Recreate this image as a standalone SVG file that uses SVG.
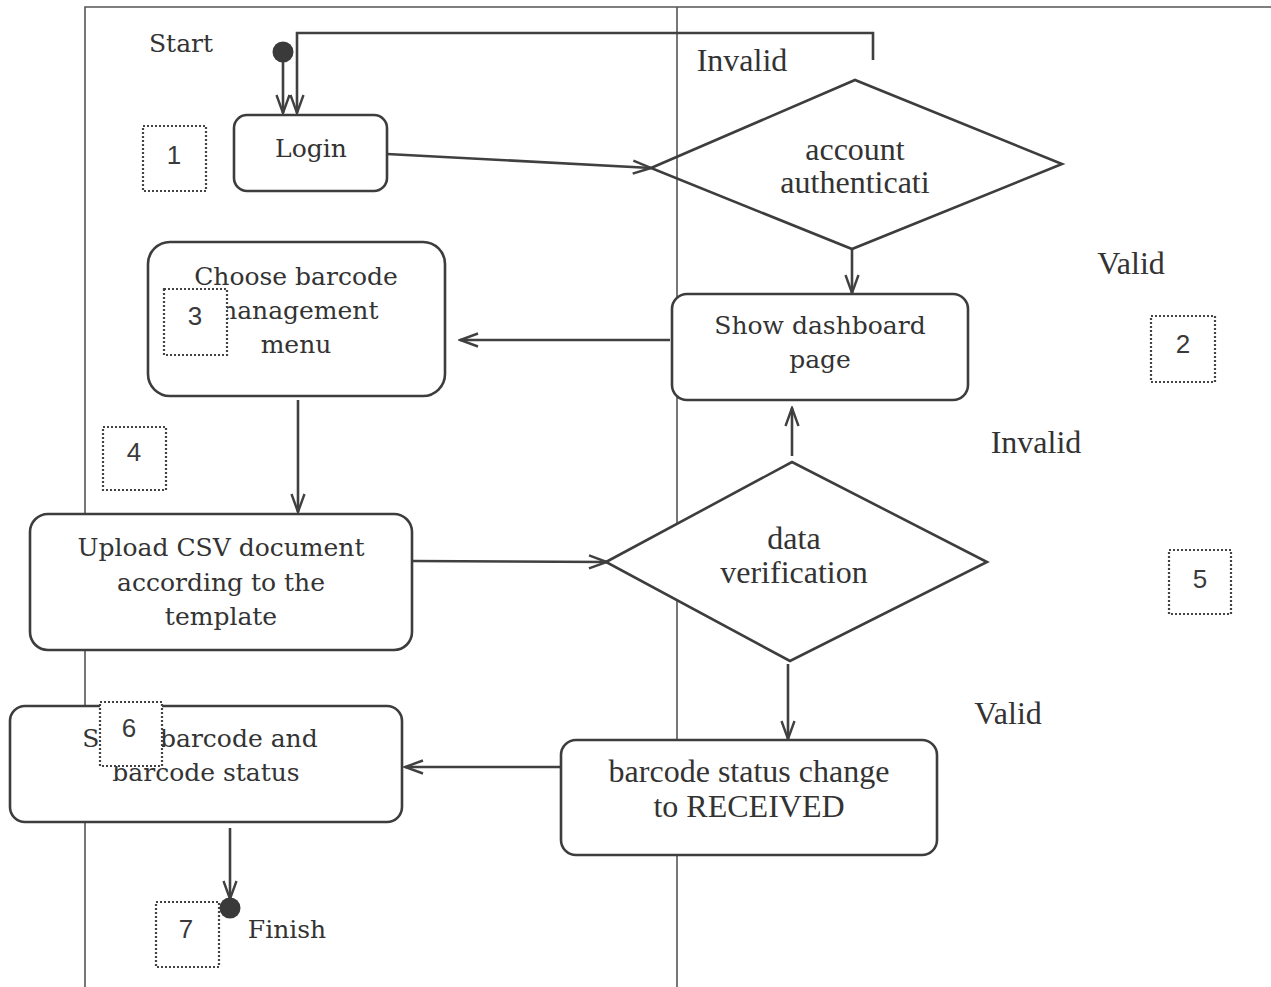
<svg xmlns="http://www.w3.org/2000/svg" width="1271" height="987" viewBox="0 0 1271 987">
<style>
.lane{stroke:#555;stroke-width:1.6;fill:none}
.box{fill:#fff;stroke:#3d3d3d;stroke-width:2.6}
.dia{stroke:#3d3d3d;stroke-width:2.6}
.num{fill:#fff;stroke:#444;stroke-width:2.2;stroke-dasharray:2 2}
.conn{fill:none;stroke:#404040;stroke-width:2.6}
.bt{font-family:"DejaVu Serif","Liberation Serif",serif;font-size:25px;fill:#333;text-anchor:middle}
.lt{font-family:"Liberation Serif",serif;font-size:32px;fill:#333;text-anchor:middle}
.nt{font-family:"Liberation Sans",Arial,sans-serif;font-size:26px;fill:#3a3a3a;text-anchor:middle}
</style>
<defs>
<marker id="arr" markerUnits="userSpaceOnUse" markerWidth="22" markerHeight="17" viewBox="0 0 22 17" refX="20" refY="8.5" orient="auto">
<path d="M2,2 L20,8.5 L2,15" fill="none" stroke="#404040" stroke-width="2.4"/>
</marker>
</defs>
<rect width="1271" height="987" fill="#fff"/>
<g id="lanes">
<path class="lane" d="M85,987 L85,7 L1271,7"/>
<path class="lane" d="M677,7 L677,987"/>
</g>
<g id="connectors">
<path class="conn" d="M283,62 L283,113" marker-end="url(#arr)"/>
<path class="conn" d="M873,60 L873,33 L297,33 L297,113" marker-end="url(#arr)"/>
<path class="conn" d="M387,154 L651,168" marker-end="url(#arr)"/>
<path class="conn" d="M852,249 L852,293" marker-end="url(#arr)"/>
<path class="conn" d="M670,340 L460,340" marker-end="url(#arr)"/>
<path class="conn" d="M298,400 L298,512" marker-end="url(#arr)"/>
<path class="conn" d="M412,561 L607,562" marker-end="url(#arr)"/>
<path class="conn" d="M792,456 L792,408" marker-end="url(#arr)"/>
<path class="conn" d="M788,664 L788,739" marker-end="url(#arr)"/>
<path class="conn" d="M576,767 L405,767" marker-end="url(#arr)"/>
<path class="conn" d="M230,828 L230,899" marker-end="url(#arr)"/>
</g>
<g id="start">
<circle cx="283" cy="52" r="10.5" fill="#3a3a3a"/>
<text class="bt" x="181" y="52">Start</text>
</g>
<g id="login">
<rect class="box" x="234" y="115" width="153" height="76" rx="13"/>
<text class="bt" x="311" y="157">Login</text>
</g>
<g id="auth">
<polygon class="dia" fill="none" points="651,168 855,80 1062,164 852,249"/>
<text class="lt" x="855" y="160">account</text>
<text class="lt" x="855" y="193">authenticati</text>
</g>
<g id="dashboard">
<rect class="box" x="672" y="294" width="296" height="106" rx="15"/>
<text class="bt" x="820" y="334">Show dashboard</text>
<text class="bt" x="820" y="368">page</text>
</g>
<g id="choose">
<rect class="box" x="148" y="242" width="297" height="154" rx="22"/>
<text class="bt" x="296" y="285">Choose barcode</text>
<text class="bt" x="296" y="319">management</text>
<text class="bt" x="296" y="353">menu</text>
</g>
<g id="upload">
<rect class="box" x="30" y="514" width="382" height="136" rx="18"/>
<text class="bt" x="221" y="556">Upload CSV document</text>
<text class="bt" x="221" y="591">according to the</text>
<text class="bt" x="221" y="625">template</text>
</g>
<g id="verify">
<polygon class="dia" fill="#fff" points="606,562 792,462 987,562 790,661"/>
<text class="lt" x="794" y="549">data</text>
<text class="lt" x="794" y="583">verification</text>
</g>
<g id="received">
<rect class="box" x="561" y="740" width="376" height="115" rx="15"/>
<text class="lt" x="749" y="782">barcode status change</text>
<text class="lt" x="749" y="817">to RECEIVED</text>
</g>
<g id="showbarcode">
<rect class="box" x="10" y="706" width="392" height="116" rx="15"/>
<text class="bt" x="200" y="747">Show barcode and</text>
<text class="bt" x="206" y="781">barcode status</text>
</g>
<g id="finish">
<circle cx="230" cy="908" r="10.5" fill="#3a3a3a"/>
<text class="bt" x="287" y="938">Finish</text>
</g>
<g id="labels">
<text class="lt" x="742" y="71">Invalid</text>
<text class="lt" x="1131" y="274">Valid</text>
<text class="lt" x="1036" y="453">Invalid</text>
<text class="lt" x="1008" y="724">Valid</text>
</g>
<g id="step1"><rect class="num" x="143" y="126" width="63" height="65"/><text class="nt" x="174" y="164">1</text></g>
<g id="step2"><rect class="num" x="1151" y="316" width="64" height="66"/><text class="nt" x="1183" y="353">2</text></g>
<g id="step3"><rect class="num" x="164" y="289" width="63" height="66"/><text class="nt" x="195" y="325">3</text></g>
<g id="step4"><rect class="num" x="103" y="427" width="63" height="63"/><text class="nt" x="134" y="461">4</text></g>
<g id="step5"><rect class="num" x="1169" y="550" width="62" height="64"/><text class="nt" x="1200" y="588">5</text></g>
<g id="step6"><rect class="num" x="100" y="702" width="62" height="64"/><text class="nt" x="129" y="737">6</text></g>
<g id="step7"><rect class="num" x="156" y="902" width="63" height="65"/><text class="nt" x="186" y="938">7</text></g>
</svg>
